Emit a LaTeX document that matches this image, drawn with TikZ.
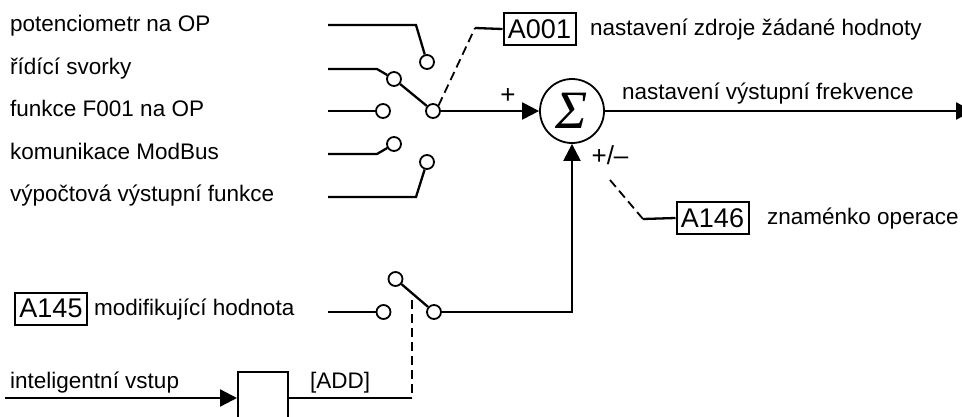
\documentclass[tikz,border=0pt]{standalone}
\usepackage{fontspec}
\setmainfont{Liberation Sans}
\newfontfamily\sigmafont{Liberation Serif}
\usetikzlibrary{arrows.meta}
\begin{document}
\begin{tikzpicture}[x=1pt,y=-1pt,
  every node/.style={font=\fontsize{22.5}{26}\selectfont},
  wire/.style={line width=2.3pt},
  contact/.style={circle,draw,line width=1.8pt,fill=white,minimum size=14pt,inner sep=0pt},
  parbox/.style={draw,line width=2pt,font=\fontsize{27}{30}\selectfont,minimum width=72pt,minimum height=32pt,inner sep=0pt},
  gatebox/.style={draw,line width=2pt,minimum width=50pt,minimum height=60pt,inner sep=0pt,anchor=north west},
  sumnode/.style={circle,draw,line width=1.8pt,minimum size=64pt,inner sep=0pt},
  lbl/.style={anchor=base west,inner sep=0pt},
  sign/.style={inner sep=0pt,font=\fontsize{26}{28}\selectfont},
  link/.style={line width=1.8pt,dash pattern=on 9pt off 5pt},
  tip/.style={-{Triangle[length=17pt,width=17pt]}}
]
\useasboundingbox (0,0) rectangle (962,416);
\clip (0,0) rectangle (962,416);

% left labels
\node[lbl] (t1) at (10,31.5) {potenciometr na OP};
\node[lbl] (t2) at (10,74) {řídící svorky};
\node[lbl] (t3) at (10,116.5) {funkce F001 na OP};
\node[lbl] (t4) at (10,159) {komunikace ModBus};
\node[lbl] (t5) at (10,201) {výpočtová výstupní funkce};

% selector contacts
\node[contact] (c1) at (427,62) {};
\node[contact] (c2) at (394,79) {};
\node[contact] (c3) at (383,111) {};
\node[contact] (c4) at (394,144) {};
\node[contact] (c5) at (427,162) {};
\node[contact] (co) at (433,111) {};

\coordinate (w1) at (328,25);  \coordinate (b1) at (416,25);
\coordinate (w2) at (328,69);  \coordinate (b2) at (377,69);
\coordinate (w3) at (328,111);
\coordinate (w4) at (328,154); \coordinate (b4) at (377,154);
\coordinate (w5) at (328,197); \coordinate (b5) at (416,197);

\draw[wire] (w1) -- (b1) -- (c1);
\draw[wire] (w2) -- (b2) -- (c2);
\draw[wire] (w3) -- (c3);
\draw[wire] (w4) -- (b4) -- (c4);
\draw[wire] (w5) -- (b5) -- (c5);
\draw[wire] (c2) -- (co);

% summing point
\node[sumnode] (sum) at (572,111) {\sigmafont\itshape\fontsize{54}{54}\selectfont Σ};
\draw[wire,tip] (co) -- (sum);
\node[sign] (plus) at (508,95.5) {+};

% A001
\node[parbox] (a001) at (539.5,29) {A001};
\node[lbl] (a001t) at (590,35) {nastavení zdroje žádané hodnoty};
\coordinate (k1) at (475,28);
\draw[link] (co.north east) -- (k1);
\draw[wire] (k1) -- (a001.west);

% output
\coordinate (oend) at (973,111);
\draw[wire,tip] (sum) -- (oend);
\node[lbl] (outt) at (622,99) {nastavení výstupní frekvence};

% sign
\node[sign] (pm) at (610,155.5) {+/–};
\node[parbox] (a146) at (712.5,218) {A146};
\node[lbl] (a146t) at (767,224.5) {znaménko operace};
\coordinate (d1) at (610,180);
\coordinate (d2) at (643,219);
\draw[link] (d1) -- (d2);
\draw[wire] (d2) -- (a146.west);

% modifying value switch
\node[parbox] (a145) at (51,308.5) {A145};
\node[lbl] (a145t) at (94,315) {modifikující hodnota};
\node[contact] (m1) at (383.5,312) {};
\node[contact] (m2) at (395.5,279) {};
\node[contact] (m3) at (434,312) {};
\coordinate (w6) at (328,312);
\draw[wire] (w6) -- (m1);
\draw[wire] (m2) -- (m3);
\coordinate (corner) at (572,312);
\draw[wire,tip] (m3) -- (corner) -- (sum);

% intelligent input
\node[lbl] (int) at (10,388) {inteligentní vstup};
\node[lbl] (addt) at (310,388) {[ADD]};
\node[gatebox] (gate) at (237,371) {};
\coordinate (in) at (5,398);
\coordinate (v1) at (411.7,300);
\coordinate (v2) at (411.7,398);
\draw[wire,tip] (in) -- (in -| gate.west);
\draw[wire] (in -| gate.east) -- (v2);
\draw[link] (v1) -- (v2);
\end{tikzpicture}
\end{document}
